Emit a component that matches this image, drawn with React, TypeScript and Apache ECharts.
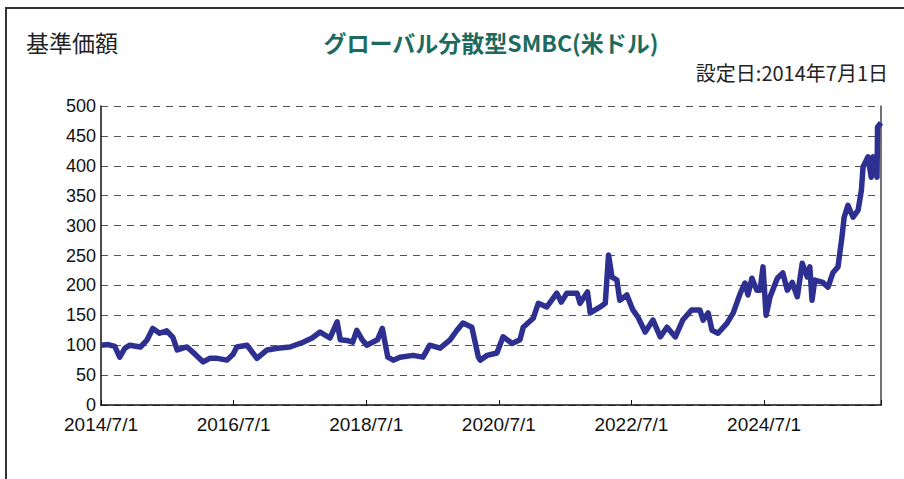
import React, { useEffect, useRef } from "react";
import * as echarts from "echarts";

const dates: string[] = [
  "2014-07-01", "2014-08-10", "2014-09-15", "2014-10-12", "2014-11-10", "2014-12-07",
  "2015-02-03", "2015-03-10", "2015-04-12", "2015-05-20", "2015-06-28", "2015-08-01",
  "2015-08-25", "2015-10-18", "2015-12-01", "2016-01-15", "2016-02-20", "2016-04-01",
  "2016-05-25", "2016-06-28", "2016-07-18", "2016-09-12", "2016-11-06", "2017-01-01",
  "2017-02-27", "2017-05-07", "2017-07-18", "2017-09-06", "2017-10-20", "2017-12-13",
  "2018-01-22", "2018-02-08", "2018-03-16", "2018-04-18", "2018-05-10", "2018-06-07",
  "2018-07-04", "2018-09-01", "2018-09-28", "2018-10-28", "2018-11-27", "2019-01-03",
  "2019-03-16", "2019-05-10", "2019-06-16", "2019-08-12", "2019-10-06", "2019-11-13",
  "2019-12-16", "2020-02-03", "2020-03-10", "2020-03-20", "2020-04-27", "2020-06-20",
  "2020-07-24", "2020-09-12", "2020-10-25", "2020-11-12", "2021-01-06", "2021-02-03",
  "2021-03-22", "2021-05-16", "2021-06-10", "2021-07-10", "2021-09-05", "2021-09-21", "2021-11-01",
  "2021-11-16", "2022-01-10", "2022-02-07", "2022-02-25", "2022-03-16", "2022-04-12",
  "2022-04-28", "2022-06-06", "2022-07-09", "2022-08-06", "2022-09-15", "2022-10-28",
  "2022-12-07", "2023-01-13", "2023-02-28", "2023-04-10", "2023-05-28", "2023-07-13",
  "2023-07-31", "2023-08-28", "2023-09-18", "2023-10-21", "2023-12-10", "2024-01-13",
  "2024-02-21", "2024-03-18", "2024-04-03", "2024-04-25", "2024-05-22", "2024-06-09",
  "2024-06-25", "2024-07-12", "2024-08-03", "2024-09-12", "2024-10-12", "2024-11-06",
  "2024-12-03", "2024-12-31", "2025-01-27", "2025-02-24", "2025-03-10", "2025-03-22",
  "2025-04-06", "2025-05-21", "2025-06-18", "2025-07-15", "2025-08-12", "2025-09-03",
  "2025-09-15", "2025-10-06", "2025-11-03", "2025-12-01", "2025-12-19", "2025-12-28",
  "2026-01-24", "2026-02-11", "2026-02-21", "2026-03-15", "2026-03-18", "2026-04-06",
];

const navValues: number[] = [
  100, 101, 98, 80, 95, 100,
  97, 108, 128, 120, 124, 113,
  92, 97, 85, 72, 78, 78,
  75, 85, 97, 100, 78, 92,
  95, 97, 105, 112, 122, 112,
  139, 109, 108, 105, 125, 110,
  100, 109, 128, 80, 75, 80,
  83, 80, 100, 95, 109, 125,
  137, 130, 80, 75, 83, 87,
  114, 103, 109, 130, 145, 170,
  164, 187, 172, 187, 187, 170, 189,
  154, 164, 170, 251, 214, 209,
  175, 184, 159, 147, 122, 142,
  114, 130, 114, 142, 159, 159,
  142, 154, 125, 120, 137, 154,
  187, 204, 184, 212, 192, 192,
  231, 150, 181, 212, 221, 192,
  205, 181, 237, 214, 231, 175,
  209, 205, 197, 221, 231, 281,
  314, 334, 314, 326, 359, 398,
  415, 381, 415, 381, 465, 472,
];

const yTicks: number[] = [0, 50, 100, 150, 200, 250, 300, 350, 400, 450, 500];

const DAY = 86400000;
const X_MIN = Date.UTC(2014, 6, 1);
const X_MAX = Date.UTC(2026, 3, 6);

export default function App() {
  const ref = useRef<HTMLDivElement>(null);
  useEffect(() => {
    if (!ref.current) return;
    const chart = echarts.init(ref.current, undefined, { renderer: "svg" });
    const seriesData = dates.map((d, i) => [Date.parse(d + "T00:00:00Z"), navValues[i]]);
    const numFont = "'Liberation Sans', Arial, sans-serif";
    chart.setOption({
      animation: false,
      backgroundColor: "#ffffff",
      grid: { left: 101, top: 106, right: 23, bottom: 74, containLabel: false },
      graphic: [
        {
          type: "rect",
          shape: { x: 6, y: 8, width: 1000, height: 1000 },
          style: { fill: "none", stroke: "#333333", lineWidth: 2 },
          silent: true,
        },
        {
          type: "text",
          x: 26,
          y: 42,
          style: {
            text: "基準価額",
            font: "23px 'Noto Sans CJK JP', sans-serif",
            fill: "#222222",
            textVerticalAlign: "middle",
          },
        },
        {
          type: "text",
          x: 491,
          y: 42,
          style: {
            text: "グローバル分散型SMBC(米ドル)",
            font: "bold 23px 'Noto Sans CJK JP', sans-serif",
            fill: "#1d6b60",
            textAlign: "center",
            textVerticalAlign: "middle",
          },
        },
        {
          type: "text",
          x: 888,
          y: 72,
          style: {
            text: "設定日:2014年7月1日",
            font: "20px 'Noto Sans CJK JP', sans-serif",
            fill: "#222222",
            textAlign: "right",
            textVerticalAlign: "middle",
          },
        },
      ],
      xAxis: {
        type: "value",
        min: X_MIN,
        max: X_MAX,
        interval: 730.55 * DAY,
        axisLine: { show: true, lineStyle: { color: "#111111", width: 1.5 } },
        axisTick: { show: true, inside: true, length: 5, lineStyle: { color: "#111111" } },
        splitLine: { show: false },
        axisLabel: {
          color: "#111111",
          fontSize: 19,
          fontFamily: numFont,
          margin: 10,
          formatter: (v: number) => {
            const days = Math.round((v - X_MIN) / DAY);
            const d = new Date(X_MIN + days * DAY);
            if (d.getUTCMonth() === 6 && d.getUTCDate() === 1) {
              return `${d.getUTCFullYear()}/7/1`;
            }
            return "";
          },
        },
      },
      yAxis: [
        {
          type: "value",
          min: yTicks[0],
          max: yTicks[yTicks.length - 1],
          interval: 50,
          axisLine: { show: true, lineStyle: { color: "#111111", width: 1.5 } },
          axisTick: { show: false },
          axisLabel: { color: "#111111", fontSize: 18, fontFamily: numFont, margin: 5 },
          splitLine: {
            show: true,
            lineStyle: { color: "#555555", type: [7, 6], width: 1 },
          },
        },
        {
          type: "value",
          position: "right",
          min: 0,
          max: 500,
          interval: 50,
          axisLine: { show: true, lineStyle: { color: "#444444", width: 1.5 } },
          axisTick: { show: false },
          axisLabel: { show: false },
          splitLine: { show: false },
        },
      ],
      series: [
        {
          type: "line",
          data: seriesData,
          showSymbol: false,
          symbol: "none",
          lineStyle: { color: "#2d3091", width: 5.5, join: "round" },
          itemStyle: { color: "#2d3091" },
        },
      ],
    });
    return () => chart.dispose();
  }, []);
  return (
    <div
      ref={ref}
      style={{ position: "fixed", left: 0, top: 0, width: 904, height: 479, background: "#fff" }}
    />
  );
}
